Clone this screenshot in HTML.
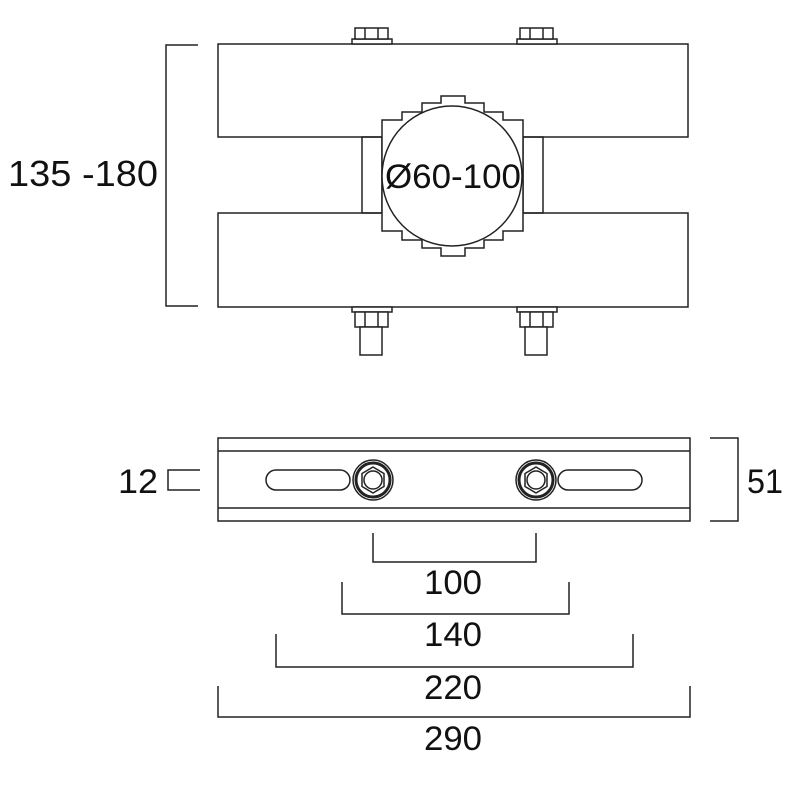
<!DOCTYPE html>
<html><head><style>body{margin:0;background:#fff}svg{display:block}text{font-family:"Liberation Sans",Arial,sans-serif;fill:#111}</style></head>
<body>
<svg width="800" height="800" viewBox="0 0 800 800" fill="none" stroke="#222" stroke-width="1.5">
<!-- top view -->
<rect x="218" y="44" width="470" height="93" fill="#fff"/>
<rect x="218" y="213" width="470" height="94" fill="#fff"/>
<rect x="362" y="137" width="20" height="76"/>
<rect x="523" y="137" width="20" height="76"/>
<polygon fill="#fff" points="441,96 465,96 465,103 484,103 484,112 503,112 503,120 523,120 523,231 503,231 503,240 484,240 484,248 465,248 465,256 441,256 441,248 422,248 422,240 402,240 402,231 382,231 382,120 402,120 402,112 422,112 422,103 441,103"/>
<circle cx="452" cy="176" r="70" fill="#fff"/>
<text x="453" y="188" font-size="34" text-anchor="middle" stroke="none" textLength="136" lengthAdjust="spacingAndGlyphs">Ø60-100</text>
<!-- nuts -->
<g fill="#fff">
<rect x="352" y="39" width="40" height="5"/><rect x="355" y="28" width="33" height="11"/>
<rect x="517" y="39" width="40" height="5"/><rect x="520" y="28" width="33" height="11"/>
<rect x="352" y="307" width="40" height="5"/><rect x="355" y="312" width="33" height="15"/><rect x="360" y="327" width="22" height="28"/>
<rect x="517" y="307" width="40" height="5"/><rect x="520" y="312" width="33" height="15"/><rect x="525" y="327" width="22" height="28"/>
</g>
<line x1="365" y1="28" x2="365" y2="39"/><line x1="378" y1="28" x2="378" y2="39"/>
<line x1="530" y1="28" x2="530" y2="39"/><line x1="543" y1="28" x2="543" y2="39"/>
<line x1="365" y1="312" x2="365" y2="327"/><line x1="378" y1="312" x2="378" y2="327"/>
<line x1="530" y1="312" x2="530" y2="327"/><line x1="543" y1="312" x2="543" y2="327"/>
<!-- left dim -->
<polyline points="198,45 166,45 166,306 198,306"/>
<text x="8" y="186" font-size="36" stroke="none" textLength="150" lengthAdjust="spacingAndGlyphs">135 -180</text>
<!-- side view -->
<rect x="218" y="438" width="472" height="83"/>
<line x1="218" y1="451" x2="690" y2="451"/>
<line x1="218" y1="508" x2="690" y2="508"/>
<rect x="266" y="470" width="84" height="20" rx="10"/>
<rect x="558" y="470" width="84" height="20" rx="10"/>
<g>
<circle cx="373" cy="480" r="20"/><circle cx="373" cy="480" r="17" stroke-width="3"/>
<polygon points="373,467 384,473.5 384,486.5 373,493 362,486.5 362,473.5"/><circle cx="373" cy="480" r="9"/>
<circle cx="536" cy="480" r="20"/><circle cx="536" cy="480" r="17" stroke-width="3"/>
<polygon points="536,467 547,473.5 547,486.5 536,493 525,486.5 525,473.5"/><circle cx="536" cy="480" r="9"/>
</g>
<polyline points="200,470 168,470 168,490 200,490"/>
<text x="118" y="493" font-size="34" stroke="none" textLength="40" lengthAdjust="spacingAndGlyphs">12</text>
<polyline points="710,438 738,438 738,521 710,521"/>
<text x="747" y="493" font-size="34" stroke="none" textLength="36" lengthAdjust="spacingAndGlyphs">51</text>
<!-- bottom dims -->
<polyline points="373,533 373,562 536,562 536,533"/>
<polyline points="342,582 342,614 569,614 569,582"/>
<polyline points="276,634 276,667 633,667 633,634"/>
<polyline points="218,686 218,717 690,717 690,686"/>
<g font-size="34" text-anchor="middle" stroke="none">
<text x="453" y="594" textLength="58" lengthAdjust="spacingAndGlyphs">100</text><text x="453" y="646" textLength="58" lengthAdjust="spacingAndGlyphs">140</text><text x="453" y="699" textLength="58" lengthAdjust="spacingAndGlyphs">220</text><text x="453" y="750" textLength="58" lengthAdjust="spacingAndGlyphs">290</text>
</g>
</svg>
</body></html>
